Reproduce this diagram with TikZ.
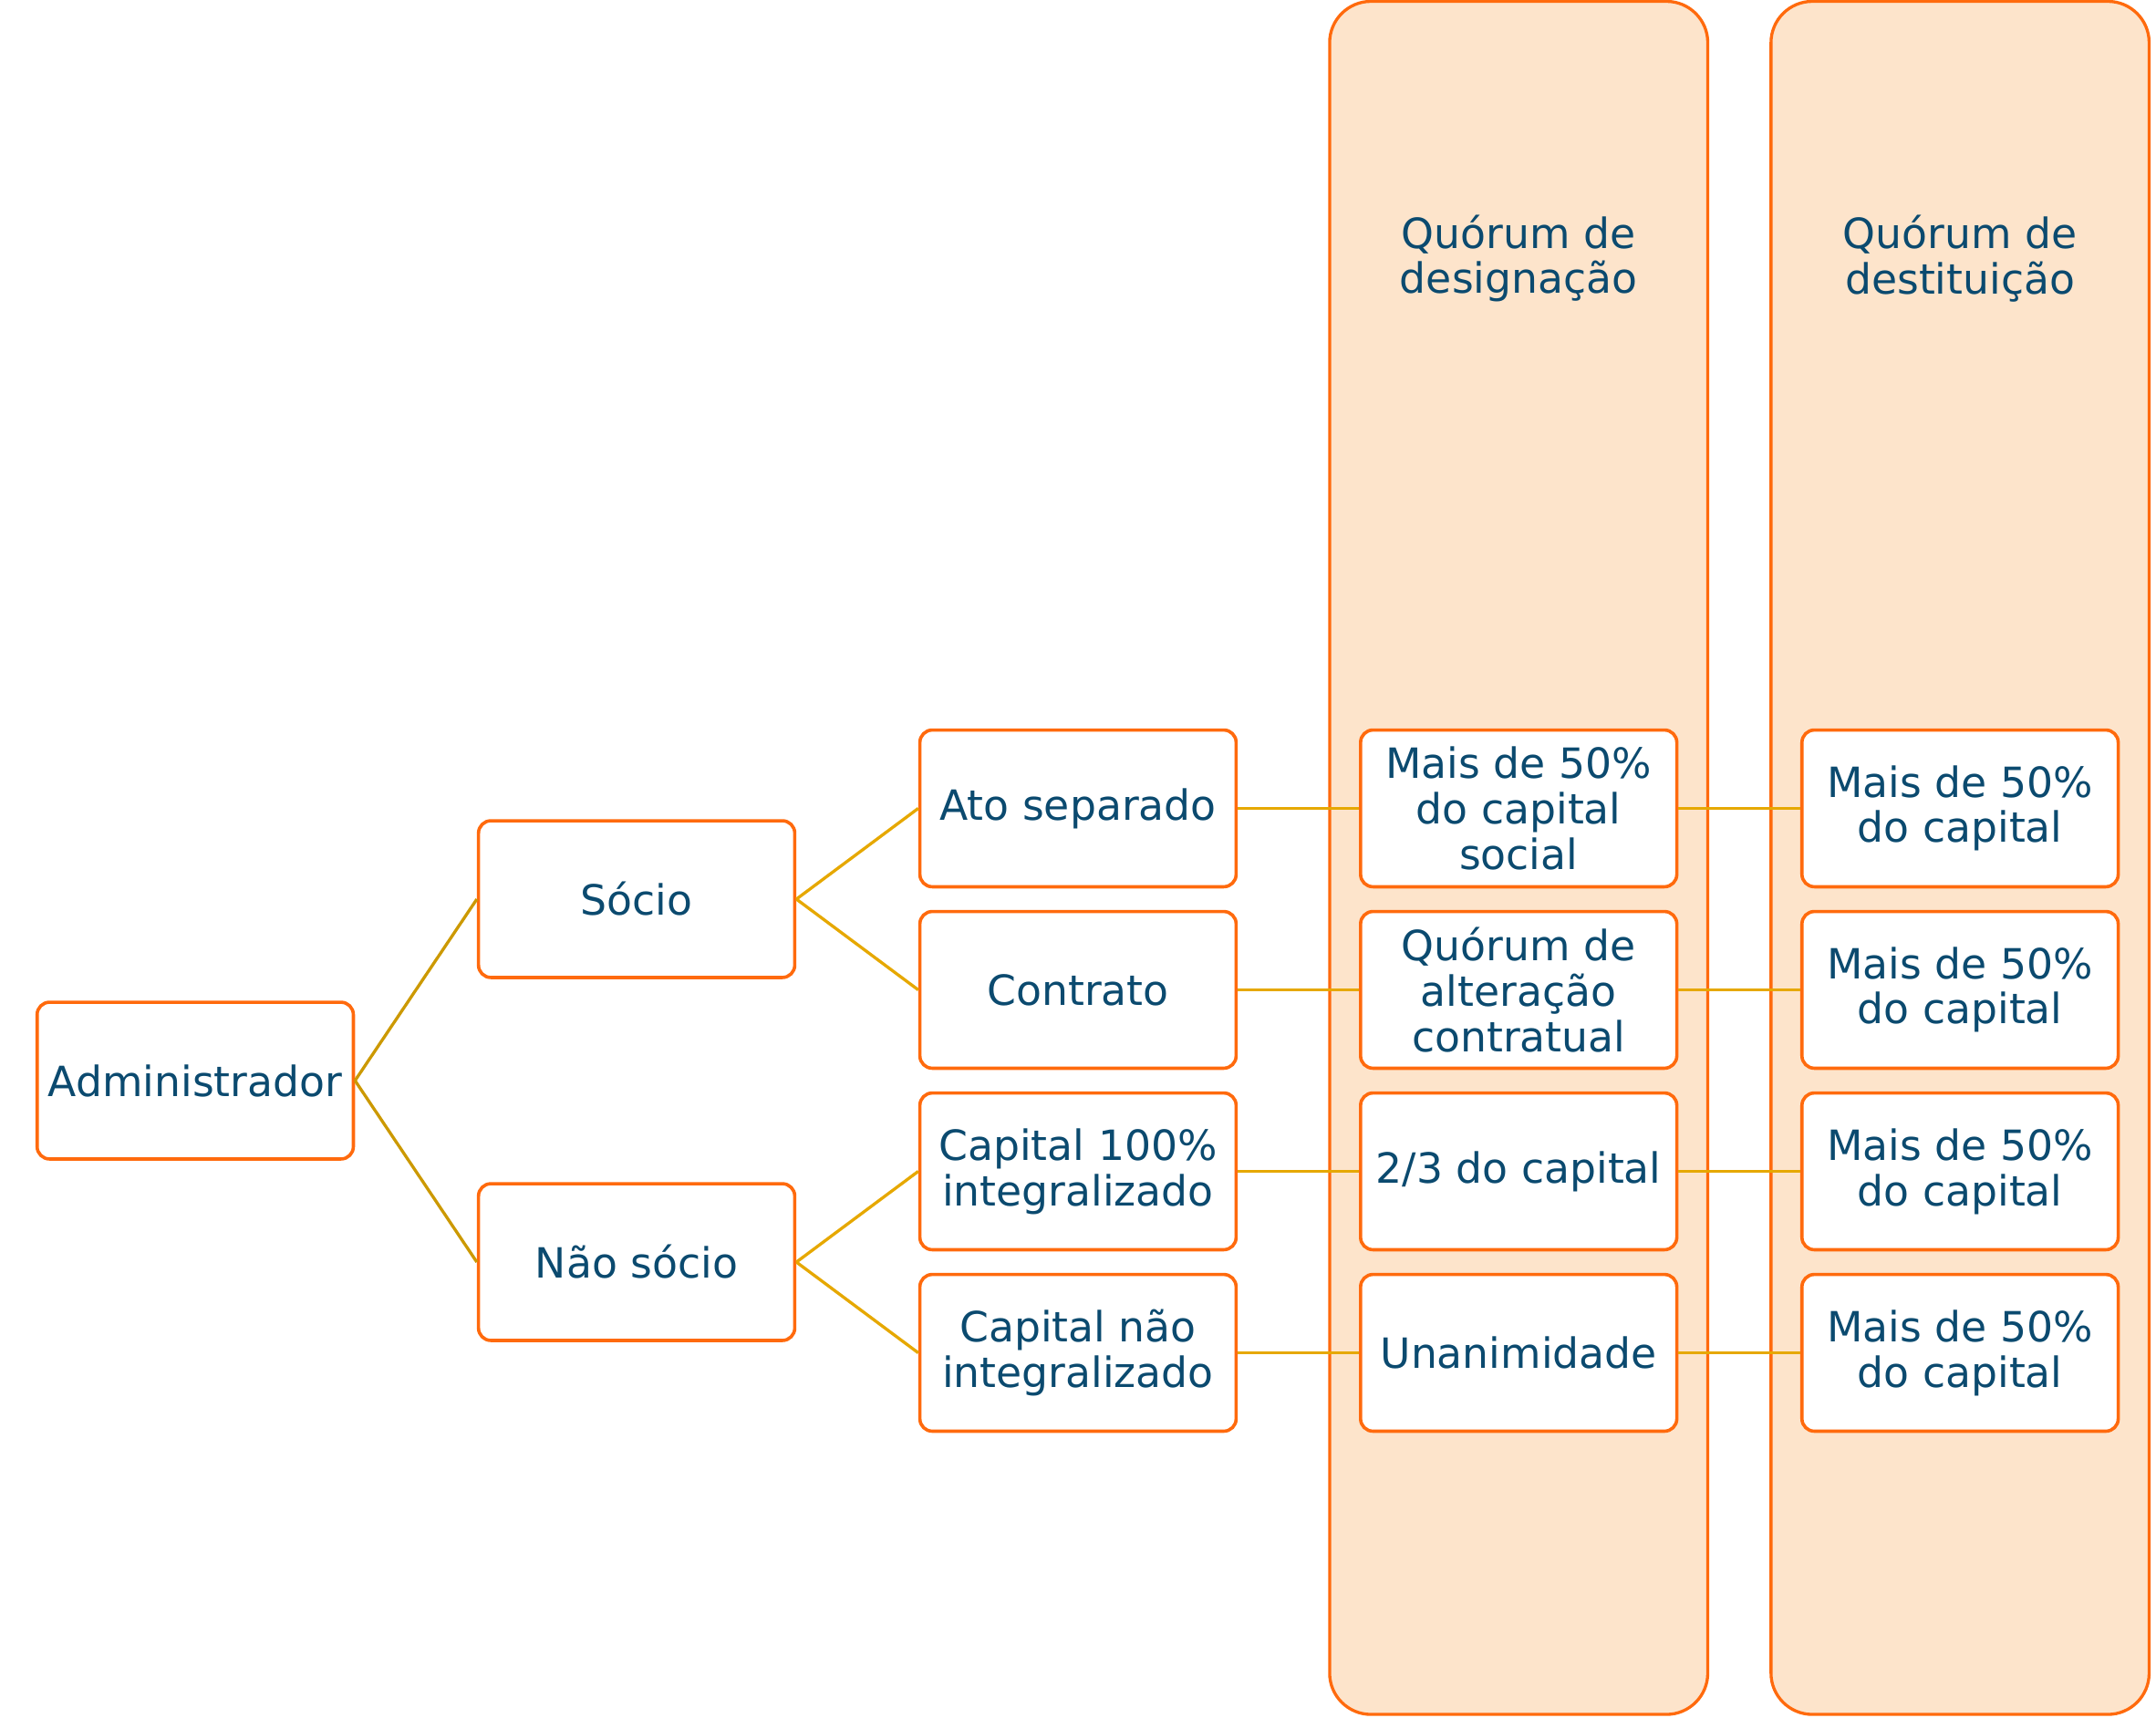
\documentclass[tikz,border=0pt]{standalone}
\usepackage{fontspec}
\setmainfont{DejaVu Sans}
\definecolor{bord}{HTML}{FF6A0D}
\definecolor{pan}{HTML}{FDE4CB}
\definecolor{txt}{HTML}{0B4A6F}
\definecolor{lnA}{HTML}{CC9900}
\definecolor{lnB}{HTML}{E6A800}
\tikzset{
  box/.style={draw=bord, line width=2.4pt, rounded corners=9pt, fill=white,
    minimum width=230pt, minimum height=114pt, inner sep=0pt, align=center,
    text=txt, font=\fontsize{30.3}{33}\selectfont},
  panel/.style={draw=bord, line width=2.2pt, rounded corners=30pt, fill=pan,
    minimum width=275pt, minimum height=1246pt, inner sep=0pt},
  head/.style={align=center, text=txt, inner sep=0pt, font=\fontsize{30.3}{33}\selectfont},
  linkA/.style={draw=lnA, line width=2.2pt},
  linkB/.style={draw=lnB, line width=2.2pt}
}
\begin{document}
\begin{tikzpicture}[x=1pt,y=-1pt]
\useasboundingbox (0,0) rectangle (1568,1249);
\node[panel] (p1) at (1104.5,624) {};
\node[panel] (p2) at (1425.5,624) {};
\node[head] (h1) at (1104.5,188) {Quórum de\\designação};
\node[head] (h2) at (1425.5,188) {Quórum de\\destituição};

\node[box] (adm) at (142,786) {Administrador};
\node[box] (soc) at (463,654) {Sócio};
\node[box] (nsoc) at (463,918) {Não sócio};
\node[box] (ato) at (784,588) {Ato separado};
\node[box] (con) at (784,720) {Contrato};
\node[box] (c100) at (784,852) {Capital 100\%\\integralizado};
\node[box] (cnao) at (784,984) {Capital não\\integralizado};

\node[box] (d1) at (1104.5,588) {Mais de 50\%\\do capital\\social};
\node[box] (d2) at (1104.5,720) {Quórum de\\alteração\\contratual};
\node[box] (d3) at (1104.5,852) {2/3 do capital};
\node[box] (d4) at (1104.5,984) {Unanimidade};

\node[box] (e1) at (1425.5,588) {Mais de 50\%\\do capital};
\node[box] (e2) at (1425.5,720) {Mais de 50\%\\do capital};
\node[box] (e3) at (1425.5,852) {Mais de 50\%\\do capital};
\node[box] (e4) at (1425.5,984) {Mais de 50\%\\do capital};

\draw[linkA] (adm.east) -- (soc.west);
\draw[linkA] (adm.east) -- (nsoc.west);
\draw[linkB] (soc.east) -- (ato.west);
\draw[linkB] (soc.east) -- (con.west);
\draw[linkB] (nsoc.east) -- (c100.west);
\draw[linkB] (nsoc.east) -- (cnao.west);
\draw[linkB] (ato) -- (d1);
\draw[linkB] (con) -- (d2);
\draw[linkB] (c100) -- (d3);
\draw[linkB] (cnao) -- (d4);
\draw[linkB] (d1) -- (e1);
\draw[linkB] (d2) -- (e2);
\draw[linkB] (d3) -- (e3);
\draw[linkB] (d4) -- (e4);
\end{tikzpicture}
\end{document}
